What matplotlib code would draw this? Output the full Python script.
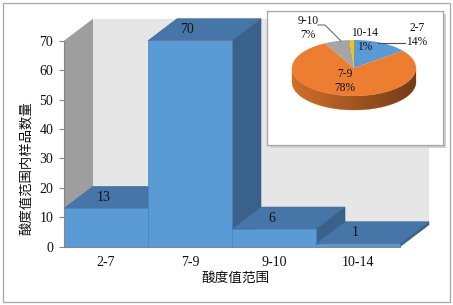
import numpy as np
import matplotlib
matplotlib.use("Agg")
import matplotlib.pyplot as plt
from matplotlib.patches import Polygon, Rectangle
from matplotlib.lines import Line2D

# ---- data ----
categories = ["2-7", "7-9", "9-10", "10-14"]
counts = [13, 70, 6, 1]
y_ticks = [0, 10, 20, 30, 40, 50, 60, 70]
x_title = "酸度值范围"
y_title = "酸度值范围内样品数量"
pie_colors = ["#5B9BD5", "#ED7D31", "#A5A5A5", "#FFC000"]

# ---- style ----
W, H, DPI = 453, 305, 100
SERIF = "Liberation Serif"
CJK = ["Noto Sans CJK SC", "DejaVu Sans"]
TXT = "#111111"
AXC = "#868686"
FRONT, TOP, SIDE = "#5B9BD5", "#4676A8", "#3A618C"

fig = plt.figure(figsize=(W / DPI, H / DPI), dpi=DPI)
fig.patch.set_facecolor("white")

# front plane of the 3-D column chart
ax_l, ax_r, ax_b, ax_t = 64, 400, 246.7, 40.7
ax = fig.add_axes([ax_l / W, (H - ax_b) / H, (ax_r - ax_l) / W, (ax_b - ax_t) / H])
ax.set_zorder(0)
ymax = y_ticks[-1]
n = len(categories)
ax.set_xlim(-0.5, n - 0.5)
ax.set_ylim(0, ymax)
ax.patch.set_alpha(0)

# depth offset (in data units) of the back plane
px_x = (ax_r - ax_l) / n
px_y = (ax_b - ax_t) / ymax
DX = 29 / px_x
DY = 22 / px_y

x0, x1 = -0.5, n - 0.5
# back wall, left wall, floor
ax.add_patch(Polygon([(x0 + DX, DY), (x1 + DX, DY), (x1 + DX, ymax + DY), (x0 + DX, ymax + DY)],
                     closed=True, fc="#E6E6E6", ec="none", clip_on=False, zorder=0.5))
ax.add_patch(Polygon([(x0, 0), (x0 + DX, DY), (x0 + DX, ymax + DY), (x0, ymax)],
                     closed=True, fc="#9E9E9E", ec="none", clip_on=False, zorder=0.6))
ax.add_patch(Polygon([(x0, 0), (x1, 0), (x1 + DX, DY), (x0 + DX, DY)],
                     closed=True, fc="#D9D9D9", ec="none", clip_on=False, zorder=0.6))

# columns, painted left to right
for i, v in enumerate(counts):
    l, r = i - 0.5, i + 0.5
    z = 1 + i * 0.1
    ax.add_patch(Polygon([(r, 0), (r + DX, DY), (r + DX, v + DY), (r, v)], closed=True,
                         fc=SIDE, ec="#34587F", lw=0.4, clip_on=False, zorder=z))
    ax.add_patch(Polygon([(l, v), (r, v), (r + DX, v + DY), (l + DX, v + DY)], closed=True,
                         fc=TOP, ec="#3D6A98", lw=0.4, clip_on=False, zorder=z + 0.01))
    ax.add_patch(Rectangle((l, 0), 1, v, fc=FRONT, ec="#4A86BF", lw=0.5,
                           clip_on=False, zorder=z + 0.02))
    ax.text(i - 0.03, v + DY / 2, str(v), ha="center", va="center", fontsize=10,
            family=SERIF, color=TXT, zorder=5, clip_on=False)

# axes styling
for s in ["top", "right"]:
    ax.spines[s].set_visible(False)
ax.spines["left"].set_color(AXC)
ax.spines["bottom"].set_color(AXC)
ax.spines["left"].set_zorder(4)
ax.spines["bottom"].set_zorder(4)
ax.set_yticks(y_ticks)
ax.set_yticklabels([str(t) for t in y_ticks], family=SERIF, fontsize=10, color=TXT)
ax.tick_params(axis="y", direction="out", length=3.8, width=0.8, color=AXC, pad=4)
ax.set_xticks(range(n))
ax.set_xticklabels(categories, family=SERIF, fontsize=10, color=TXT)
ax.tick_params(axis="x", length=0, pad=7)

fig.text(235 / W, 1 - 278 / H, x_title, ha="center", va="center", fontsize=9.8,
         family=CJK, color=TXT)
fig.text(26 / W, 1 - 168 / H, y_title, ha="center", va="center", rotation=90,
         fontsize=9.6, family=CJK, color=TXT)

# ---- inset 3-D pie ----
in_l, in_t, in_r, in_b = 267, 11, 443, 145
iw, ih = in_r - in_l, in_b - in_t
fig.add_artist(Rectangle(((in_l + 3) / W, (H - in_b - 3) / H), iw / W, ih / H,
                         transform=fig.transFigure, fc="#CFCFCF", ec="none", zorder=0.5))
ax2 = fig.add_axes([in_l / W, (H - in_b) / H, iw / W, ih / H])
ax2.set_zorder(1)
ax2.set_xlim(0, iw)
ax2.set_ylim(0, ih)
ax2.set_xticks([])
ax2.set_yticks([])
for s in ax2.spines.values():
    s.set_color("#A6A6A6")
    s.set_linewidth(0.9)

cx, cy, rx, ry, thick = 87, 77, 62, 28, 14
total = sum(counts)
fracs = [c / total for c in counts]
starts = []
a = 90.0
for f in fracs:
    starts.append((a, a - f * 360))
    a -= f * 360


def arc(t):
    return cx + rx * np.cos(t), cy + ry * np.sin(t)


# side wall: the visible (front) half of each slice's rim
for (a0, a1), col in zip(starts, pie_colors):
    lo, hi = np.radians(a1), np.radians(a0)
    # wrap into the front half (angles from pi to 2*pi)
    segs = []
    for k in (-1, 0, 1):
        s0, s1 = max(lo + 2 * np.pi * k, np.pi), min(hi + 2 * np.pi * k, 2 * np.pi)
        if s1 > s0:
            segs.append((s0, s1))
    for s0, s1 in segs:
        th = np.linspace(s0, s1, 80)
        xs, ys = arc(th)
        pts = list(zip(xs, ys)) + list(zip(xs[::-1], ys[::-1] - thick))
        ax2.add_patch(Polygon(pts, closed=True, fc=col, ec=col, lw=0.3, zorder=1))

# shading of the rim: darker toward the right
th = np.linspace(np.pi, 2 * np.pi, 200)
xs, ys = arc(th)
band = Polygon(list(zip(xs, ys)) + list(zip(xs[::-1], ys[::-1] - thick)), closed=True,
               fc="none", ec="none", transform=ax2.transData)
ax2.add_patch(band)
gx = np.linspace(-1, 1, 256)
alpha = np.clip(0.30 + 0.20 * gx + 0.02, 0, 1)
grad = np.zeros((1, 256, 4))
grad[..., 3] = alpha
img = ax2.imshow(grad, extent=[cx - rx, cx + rx, cy - ry - thick - 1, cy + 1],
                 aspect="auto", zorder=1.5, interpolation="bilinear")
img.set_clip_path(band)
ax2.set_xlim(0, iw)
ax2.set_ylim(0, ih)

# top faces
for (a0, a1), col in zip(starts, pie_colors):
    th = np.linspace(np.radians(a0), np.radians(a1), 80)
    xs, ys = arc(th)
    pts = [(cx, cy)] + list(zip(xs, ys))
    ax2.add_patch(Polygon(pts, closed=True, fc=col, ec="none", zorder=2))

# data labels
pct = [f"{round(f * 100)}%" for f in fracs]
label_pos = [(150, 110), (78, 64), (41, 117), (98, 105)]
for (lx, ly), cat, p in zip(label_pos, categories, pct):
    ax2.text(lx, ly, f"{cat}\n{p}", ha="center", va="center", multialignment="center",
             fontsize=8.3, family=SERIF, color=TXT, linespacing=1.2, zorder=4)
ax2.add_line(Line2D([51, 58, 74], [120, 120, 104], color="#707070", lw=0.8, zorder=3))
ax2.add_line(Line2D([111, 138], [102, 102], color="#505050", lw=0.8, zorder=3))

# outer border
fig.add_artist(Rectangle((3 / W, 3 / H), (W - 6) / W, (H - 6) / H, transform=fig.transFigure,
                         fill=False, ec="#A6A6A6", lw=0.9, zorder=5))

fig.savefig("out.png", dpi=DPI)
